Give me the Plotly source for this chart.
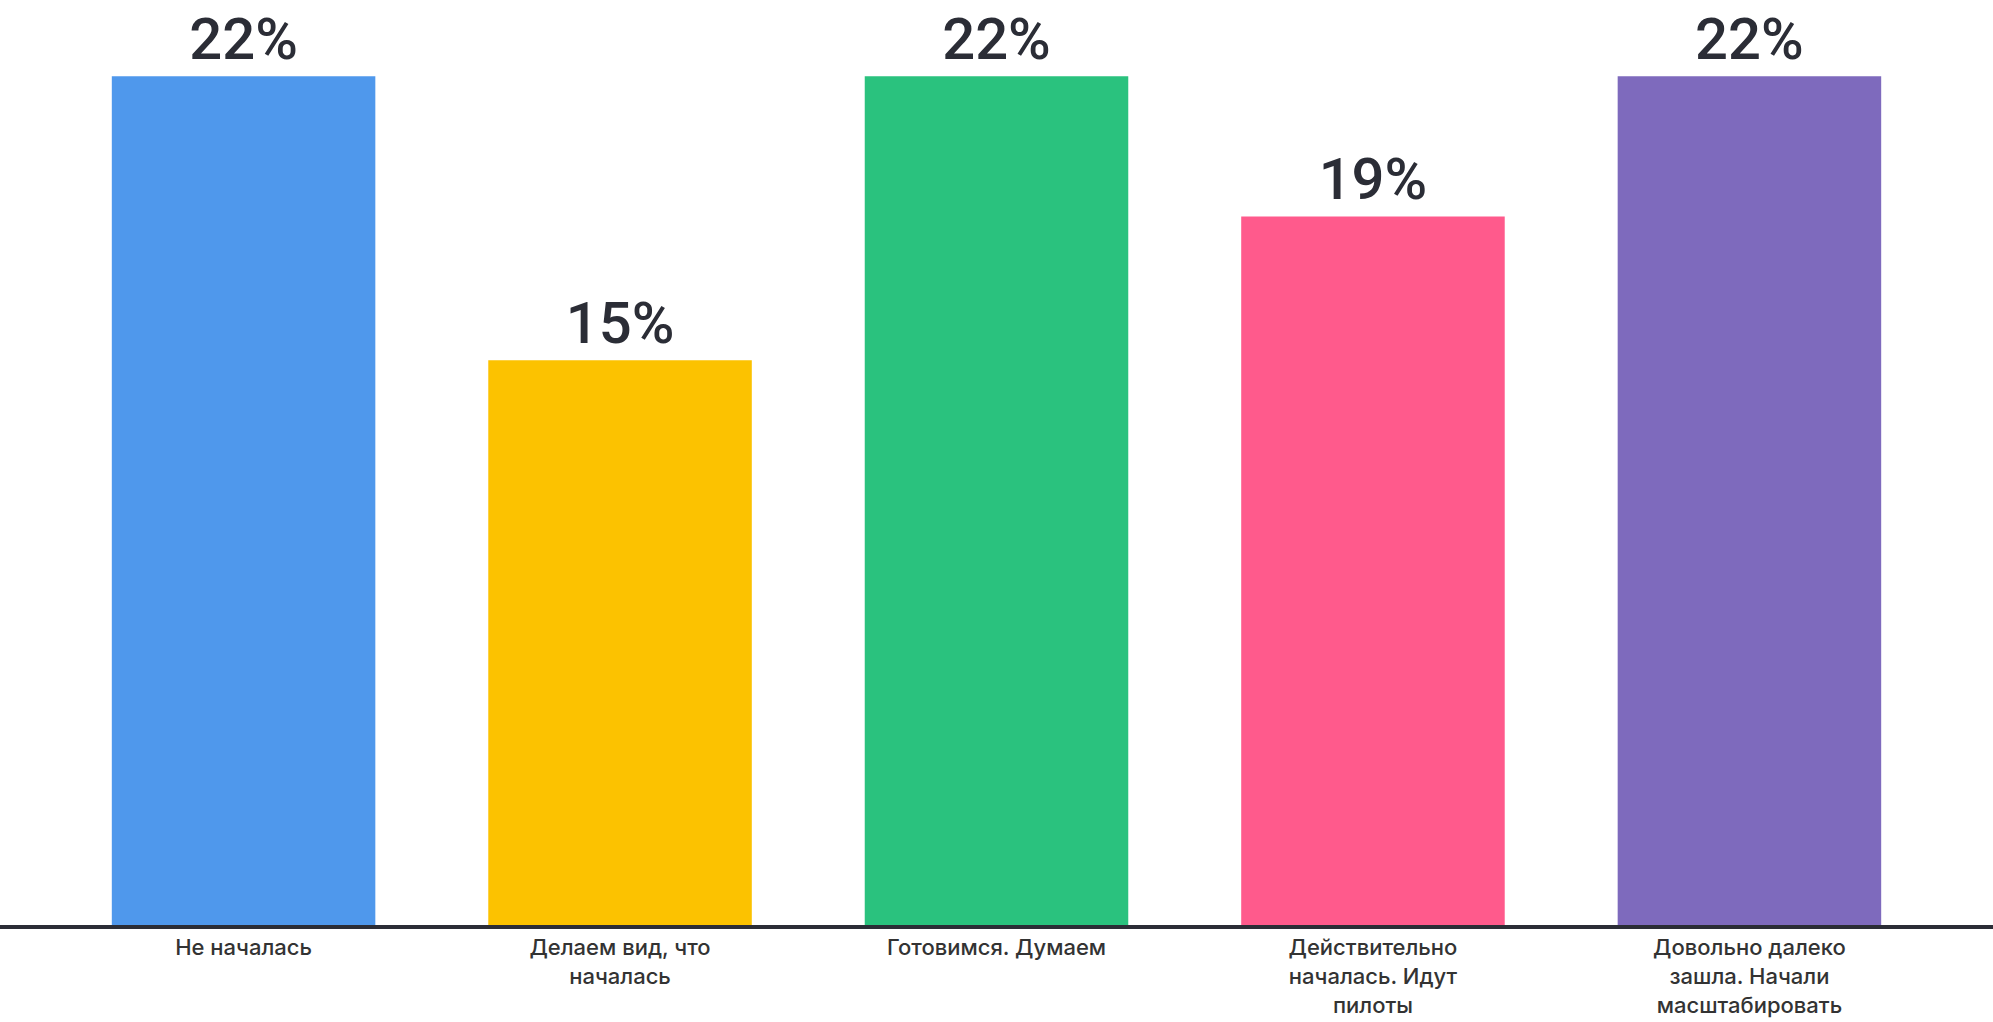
import plotly.graph_objects as go

categories = [
    "Не началась",
    "Делаем вид, что<br>началась",
    "Готовимся. Думаем",
    "Действительно<br>началась. Идут<br>пилоты",
    "Довольно далеко<br>зашла. Начали<br>масштабировать",
]
values = [22.4, 14.9, 22.4, 18.7, 22.4]
colors = ["#4F98EC", "#FCC200", "#2AC27E", "#FF5A8C", "#7E6ABD"]

fig = go.Figure(
    go.Bar(
        x=categories,
        y=values,
        marker=dict(color=colors, line=dict(width=0)),
        width=0.70,
        texttemplate="%{y:.0f}%",
        textposition="outside",
        textfont=dict(family="Roboto", size=58, color="#2B2D36", weight=500),
        cliponaxis=False,
        hoverinfo="skip",
    )
)

fig.update_layout(
    width=1993,
    height=1022,
    margin=dict(l=0, r=0, t=0, b=97),
    paper_bgcolor="white",
    plot_bgcolor="white",
    showlegend=False,
    xaxis=dict(
        range=[-0.647, 4.647],
        showline=True,
        linecolor="#2B2D36",
        linewidth=4,
        showgrid=False,
        zeroline=False,
        ticks="",
        tickfont=dict(family="Inter", size=22, color="#333333", weight=500),
        tickangle=0,
    ),
    yaxis=dict(
        range=[0, 24.41],
        visible=False,
        showgrid=False,
        zeroline=False,
    ),
)

fig.write_html(
    "out.html",
    config={"displayModeBar": False},
    post_script="document.body.style.margin='0';",
)
